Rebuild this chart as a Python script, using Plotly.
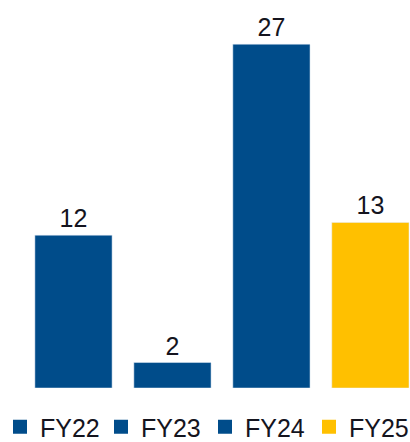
import plotly.graph_objects as go

categories = ["FY22", "FY23", "FY24", "FY25"]
values = [12, 2, 27, 13]
colors = ["#004C8A", "#004C8A", "#004C8A", "#FFC000"]

FONT = "Liberation Sans, Arial, sans-serif"
W, H = 410, 442

fig = go.Figure()
for c, v, col in zip(categories, values, colors):
    fig.add_trace(go.Bar(
        x=[c], y=[v], name=c, marker_color=col, width=0.78, showlegend=False,
        text=[str(v)], textposition="outside", cliponaxis=False,
        textfont=dict(size=25, color="#14141E", family=FONT),
    ))

legend_names = ["legend", "legend2", "legend3", "legend4"]
for i, (c, col) in enumerate(zip(categories, colors)):
    fig.add_trace(go.Scatter(
        x=[None], y=[None], mode="markers", name=c, legend=legend_names[i],
        marker=dict(symbol="square", size=14, color=col),
    ))

layout_legends = {}
for i, ln in enumerate(legend_names):
    layout_legends[ln] = dict(
        orientation="h", xref="container", x=(-3 + 104 * i) / W, xanchor="left",
        yref="container", y=15 / H, yanchor="middle",
        font=dict(size=25, color="#14141E", family=FONT), itemclick=False,
        bgcolor="rgba(0,0,0,0)",
    )

fig.update_layout(
    width=W, height=H,
    margin=dict(l=24, r=0, t=6, b=54, autoexpand=False),
    barmode="overlay",
    plot_bgcolor="white", paper_bgcolor="white",
    font=dict(family=FONT, color="#14141E"),
    xaxis=dict(range=[-0.5, 3.4], showticklabels=False, showgrid=False, zeroline=False,
               showline=False, type="category", categoryorder="array", categoryarray=categories),
    yaxis=dict(range=[0, 30], visible=False),
    showlegend=True,
    **layout_legends,
)
fig.write_html("out.html", config={"displayModeBar": False},
               post_script="document.body.style.margin='0';document.body.style.overflow='hidden';")
